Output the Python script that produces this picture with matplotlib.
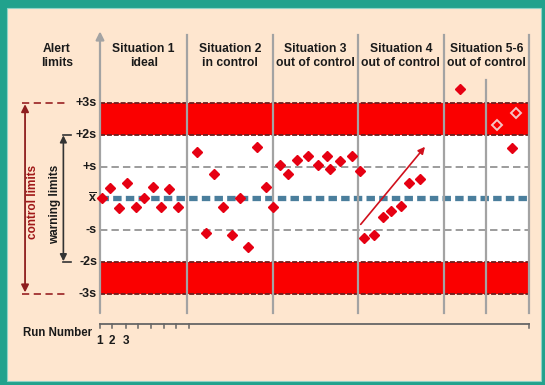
import matplotlib.pyplot as plt
from matplotlib.patches import Rectangle

plt.rcParams['font.family'] = ['Liberation Sans', 'DejaVu Sans']
plt.rcParams['mathtext.fontset'] = 'custom'
plt.rcParams['mathtext.bf'] = 'Liberation Sans:bold'

# limits in units of s
levels = [3, 2, 1, 0, -1, -2, -3]
level_labels = ['+3s', '+2s', '+s', r'$\overline{\mathbf{x}}$', '-s', '-2s', '-3s']

situations = ['Situation 1\nideal', 'Situation 2\nin control', 'Situation 3\nout of control',
              'Situation 4\nout of control', 'Situation 5-6\nout of control']
bounds = [0, 10.25, 20.25, 30.25, 40.25, 50.25]
sub_bound = 45.25

# run positions / values (in s)
s1_x = [0.2, 1.17, 2.23, 3.2, 4.22, 5.19, 6.17, 7.11, 8.12, 9.17]
s1_y = [0.0, 0.31, -0.29, 0.47, -0.28, 0.02, 0.34, -0.28, 0.29, -0.28]
s2_x = [11.33, 12.42, 13.35, 14.37, 15.43, 16.40, 17.37, 18.36, 19.41, 20.30]
s2_y = [1.47, -1.10, 0.75, -0.28, -1.15, 0.02, -1.52, 1.62, 0.35, -0.26]
s3_x = [21.08, 22.06, 23.04, 24.40, 25.57, 26.56, 26.94, 28.11, 29.48, 30.46]
s3_y = [1.05, 0.75, 1.20, 1.33, 1.05, 1.33, 0.91, 1.18, 1.34, 0.87]
s4_x = [30.92, 32.13, 33.18, 34.09, 35.26, 36.19, 37.48]
s4_y = [-1.26, -1.15, -0.58, -0.40, -0.24, 0.47, 0.60]
s5_x = [42.17, 48.22]
s5_y = [3.43, 1.58]
s6_x = [46.47, 48.69]
s6_y = [2.30, 2.67]
trend_start = (30.54, -0.82)
trend_end = (38.07, 1.62)

run_ticks = [0, 1.44, 3.01, 4.48, 5.97, 7.46, 8.94, 10.46]
run_labels = ['1', '2', '3']

teal = '#21A28D'
peach = '#FEE6CF'
red = '#FA0000'
dark_red = '#8E1E1E'
grey = '#A3A3A3'

fig = plt.figure(figsize=(5.45, 3.85), dpi=100, facecolor=teal)
fig.patches.append(Rectangle((7 / 545, 4 / 385), 534 / 545, 373 / 385, transform=fig.transFigure,
                             facecolor=peach, edgecolor='#8FD3C6', lw=0.8, zorder=-5))
ax = fig.add_axes([0, 0, 1, 1])
ax.set_zorder(1)
ax.set_facecolor('none')
ax.set_xlim(-11.714, 52.13)
ax.set_ylim(-5.871, 6.236)
ax.axis('off')

left, right = bounds[0], bounds[-1]
top, bottom = 5.14, -3.61

# bands
ax.add_patch(Rectangle((left, -2), right - left, 4, facecolor='white', zorder=1))
ax.add_patch(Rectangle((left, 2), right - left, 1, facecolor=red, zorder=1))
ax.add_patch(Rectangle((left, -3), right - left, 1, facecolor=red, zorder=1))
for lv in [3, 2, -2, -3]:
    ax.plot([left, right], [lv, lv], color='#6E1D1D', lw=1.3, ls=(0, (2.8, 1.0)), zorder=2)
for lv in [1, -1]:
    ax.plot([left, right], [lv, lv], color='#9C9C9C', lw=1.4, ls=(0, (3.8, 2.1)), zorder=2)
ax.plot([left, right], [0, 0], color='#4A7E9C', lw=3.8, ls=(0, (1.6, 0.8)), zorder=2)

# dividers
for b in bounds[1:]:
    ax.plot([b, b], [bottom, top], color=grey, lw=1.6, zorder=3)
ax.plot([sub_bound, sub_bound], [bottom, 3.72], color=grey, lw=1.6, zorder=3)
ax.annotate('', xy=(0, 5.25), xytext=(0, bottom),
            arrowprops=dict(arrowstyle='-|>', color=grey, lw=1.6, mutation_scale=12, shrinkA=0, shrinkB=0),
            zorder=3)

# points
mk = dict(ls='none', marker='D', ms=5.4, color='#E60012', mec='#E60012', zorder=5)
for xs, ys in [(s1_x, s1_y), (s2_x, s2_y), (s3_x, s3_y), (s4_x, s4_y), (s5_x, s5_y)]:
    ax.plot(xs, ys, **mk)
ax.plot(s6_x, s6_y, ls='none', marker='D', ms=5.4, mfc='none', mec='#F4C4C4', mew=1.4, zorder=5)
ax.annotate('', xy=trend_end, xytext=trend_start,
            arrowprops=dict(arrowstyle='-|>', color='#D0101C', lw=1.2, mutation_scale=10, shrinkA=0, shrinkB=0),
            zorder=4)

# headers
for i, name in enumerate(situations):
    ax.text((bounds[i] + bounds[i + 1]) / 2, 4.48, name, ha='center', va='center',
            fontsize=8.7, fontweight='bold', color='#1A1A1A', linespacing=1.15)
ax.text(-5.04, 4.48, 'Alert\nlimits', ha='center', va='center', fontsize=8.7,
        fontweight='bold', color='#1A1A1A', linespacing=1.15)

# level labels
for lv, lab in zip(levels, level_labels):
    ax.text(-0.35, lv, lab, ha='right', va='center', fontsize=9, fontweight='bold', color='#1A1A1A')

# control / warning limit markers on the left
for lv in [3, -3]:
    ax.plot([-9.14, -3.98], [lv, lv], color='#A03030', lw=1.3, ls=(0, (4, 2.5)))
ax.annotate('', xy=(-8.78, 2.96), xytext=(-8.78, -2.96),
            arrowprops=dict(arrowstyle='<|-|>', color=dark_red, lw=1.3, mutation_scale=11, shrinkA=0, shrinkB=0))
ax.text(-7.85, -0.12, 'control limits', rotation=90, ha='center', va='center',
        fontsize=8.5, fontweight='bold', color='#A01818')
ax.annotate('', xy=(-4.29, 1.98), xytext=(-4.29, -1.98),
            arrowprops=dict(arrowstyle='<|-|>', color='#333333', lw=1.2, mutation_scale=10, shrinkA=0, shrinkB=0))
for lv in [2, -2]:
    ax.plot([-4.29, -3.4], [lv, lv], color='#333333', lw=1.2)
ax.text(-5.27, -0.18, 'warning limits', rotation=90, ha='center', va='center',
        fontsize=8.5, fontweight='bold', color='#1A1A1A')

# run number axis
axis_y = -3.96
ax.plot([left, right], [axis_y, axis_y], color='#666666', lw=1.3)
for t in run_ticks + [right]:
    ax.plot([t, t], [axis_y, axis_y - 0.13], color='#666666', lw=1.1)
for t, lab in zip(run_ticks, run_labels):
    ax.text(t, -4.49, lab, ha='center', va='center', fontsize=8.5, fontweight='bold', color='#1A1A1A')
ax.text(-0.9, -4.24, 'Run Number', ha='right', va='center', fontsize=8.3, fontweight='bold', color='#1A1A1A')

fig.savefig('out.png', dpi=100, facecolor=teal)
